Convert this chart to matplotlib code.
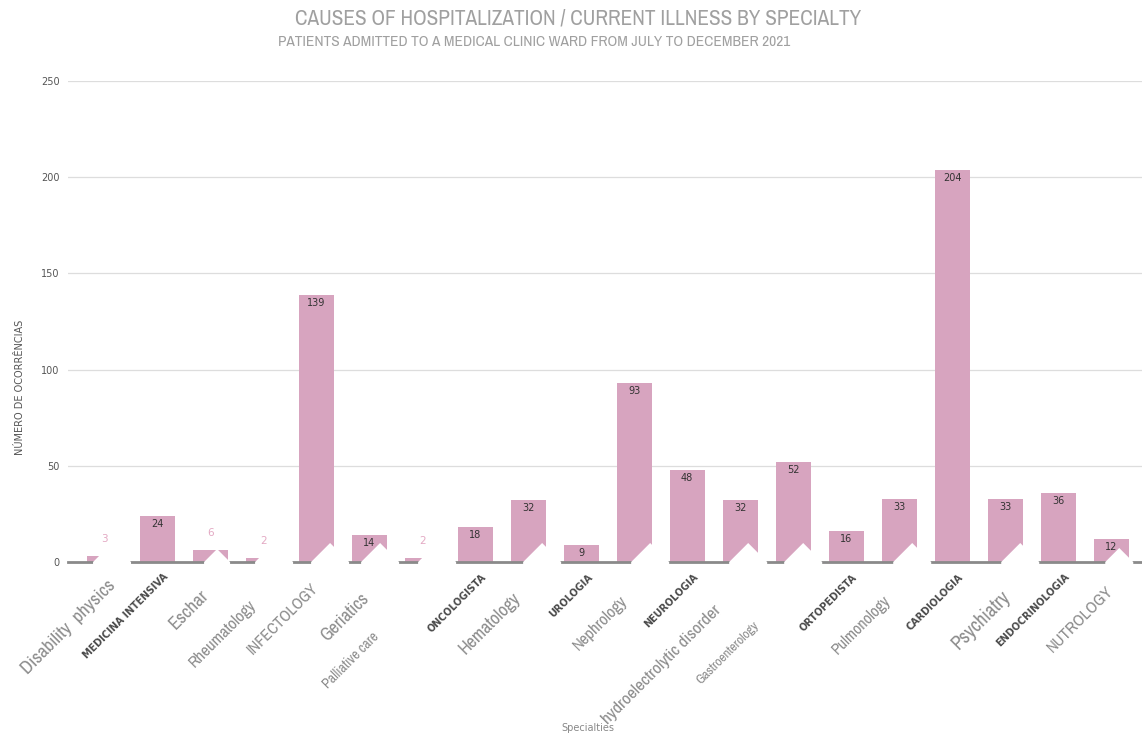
import matplotlib.pyplot as plt
from matplotlib.patches import Polygon

specialties = ['Disability  physics', 'MEDICINA INTENSIVA', 'Eschar', 'Rheumatology',
               'INFECTOLOGY', 'Geriatics', 'Palliative care', 'ONCOLOGISTA', 'Hematology',
               'UROLOGIA', 'Nephrology', 'NEUROLOGIA', 'hydroelectrolytic disorder',
               'Gastroenterology', 'ORTOPEDISTA', 'Pulmonology', 'CARDIOLOGIA',
               'Psychiatry', 'ENDOCRINOLOGIA', 'NUTROLOGY']
occurrences = [3, 24, 6, 2, 139, 14, 2, 18, 32, 9, 93, 48, 32, 52, 16, 33, 204, 33, 36, 12]
y_ticks = [0, 50, 100, 150, 200, 250]

# label style per category: (gray pasted-in label?, fontsize, dx px, dy px)
label_style = [
    (True, 13.5, 3, -15), (False, 7, 6, -10), (True, 13.5, -10, -25), (True, 12, -15, -35),
    (True, 11.5, -6, -18), (True, 13, -9, -28), (True, 10, -50, -68), (False, 7, 6, -10),
    (True, 13, -16, -28), (False, 7, 6, -10), (True, 12, -14, -31), (False, 7, 6, -10),
    (True, 12.5, -27, -41), (True, 9.5, -40, -58), (False, 7, 6, -10), (True, 11.5, -16, -31),
    (False, 7, 6, -10), (True, 14, -5, -25), (False, 7, 6, -10), (True, 12, -6, -21),
]
# white notch left by each pasted label: (peak dx px from bar centre, height px)
notch = {0: (8, 19), 2: (7, 13), 3: (11, 19), 4: (14, 19), 5: (11, 19), 6: (15, 19),
         8: (14, 19), 10: (16, 19), 12: (8, 19), 13: (10, 19), 15: (13, 19),
         17: (15, 19), 19: (8, 14)}

narrow = ['Archivo Narrow', 'DejaVu Sans']
bar_color = '#d7a4bf'

fig = plt.figure(figsize=(11.42, 7.35), dpi=100)
ax = fig.add_axes([68 / 1142, (735 - 562) / 735, 1 - 68 / 1142, (562 - 81) / 735])

x = list(range(len(specialties)))
ax.bar(x, occurrences, width=0.66, color=bar_color, zorder=2)
ax.set_xlim(-0.68, 19.58)
ax.set_ylim(0, 250)

ax.set_yticks(y_ticks)
ax.set_yticklabels([str(t) for t in y_ticks], fontsize=7, color='#555555')
ax.tick_params(axis='y', length=0, pad=6)
ax.set_xticks([])
ax.grid(axis='y', color='#dddddd', linewidth=0.9, zorder=0)
for s in ax.spines.values():
    s.set_visible(False)
ax.axhline(0, color='#8a8a8a', linewidth=2, zorder=2.5, clip_on=False)

# pixels per data unit
px_x = 1074 / (19.58 + 0.68)
px_y = 481 / 250

# value labels
for i, v in enumerate(occurrences):
    if v <= 6:
        ax.annotate(str(v), xy=(i, v), xytext=(0, 17), textcoords='offset pixels',
                    ha='center', va='center', fontsize=7.5, color='#e3a9c3', zorder=3)
    else:
        ax.annotate(str(v), xy=(i, v), xytext=(0, -8), textcoords='offset pixels',
                    ha='center', va='center', fontsize=7, color='#333333', zorder=3)

# white notches cut into the bars by the pasted labels
for i, (pdx, h) in notch.items():
    cx = i + pdx / px_x
    hw = h / px_x
    pts = [(cx - hw, 0), (cx, h / px_y), (cx + hw, 0),
           (cx + hw, -3 / px_y), (cx - hw, -3 / px_y)]
    ax.add_patch(Polygon(pts, closed=True, fc='white', ec='none', zorder=4, clip_on=False))

# category labels
for i, (name, st) in enumerate(zip(specialties, label_style)):
    gray, fs, dx, dy = st
    kw = dict(xy=(i, 0), xytext=(dx, dy), textcoords='offset pixels', rotation=45,
              ha='right', va='top', rotation_mode='anchor', annotation_clip=False, zorder=6)
    if gray:
        ax.annotate(name, color='#8c8c8c', fontsize=fs, family=narrow, **kw)
    else:
        ax.annotate(name, color='#4a4a4a', fontsize=fs, fontweight='semibold', **kw)

fig.text(20 / 1142, 1 - 387 / 735, 'NÚMERO DE OCORRÊNCIAS', rotation=90, ha='center',
         va='center', fontsize=7, color='#555555')
fig.text(588 / 1142, 1 - 728 / 735, 'Specialties', ha='center', va='center',
         fontsize=7, color='#888888', zorder=1)

fig.text(578 / 1142, 1 - 18 / 735, 'CAUSES OF HOSPITALIZATION / CURRENT ILLNESS BY SPECIALTY',
         ha='center', va='center', fontsize=15.3, color='#a0a0a0', family=narrow)
fig.text(278 / 1142, 1 - 42 / 735, 'PATIENTS ADMITTED TO A MEDICAL CLINIC WARD FROM JULY TO DECEMBER 2021',
         ha='left', va='center', fontsize=11.1, color='#a0a0a0', family=narrow)

fig.savefig('out.png', dpi=100)
